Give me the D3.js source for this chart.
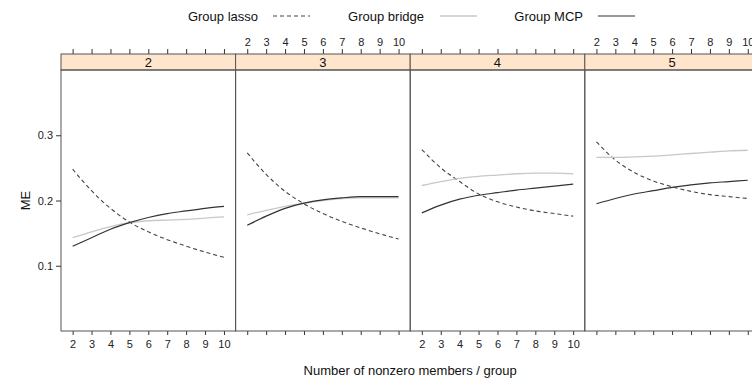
<!DOCTYPE html>
<html>
<head>
<meta charset="utf-8">
<script src="https://cdn.jsdelivr.net/npm/d3@7"></script>
<style>
  body { margin: 0; background: #fff; }
  svg { font-family: "Liberation Sans", Arial, sans-serif; }
  .frame { fill: none; stroke: #555; stroke-width: 1; }
  .strip { fill: #ffe5cc; stroke: #555; stroke-width: 1; }
  .tick line, .domain { stroke: #333; }
</style>
</head>
<body>
<div id="chart"></div>
<script>
// panels: number of groups
const panels = ['2', '3', '4', '5'];
const xs = [2, 3, 4, 5, 6, 7, 8, 9, 10];
const yTicks = [0.1, 0.2, 0.3];

const lasso = [
  [0.248, 0.215, 0.188, 0.167, 0.152, 0.140, 0.130, 0.121, 0.113],
  [0.273, 0.240, 0.214, 0.195, 0.180, 0.168, 0.158, 0.149, 0.141],
  [0.278, 0.250, 0.229, 0.210, 0.198, 0.190, 0.184, 0.180, 0.176],
  [0.290, 0.262, 0.243, 0.230, 0.221, 0.214, 0.209, 0.206, 0.203],
];
const bridge = [
  [0.143, 0.152, 0.160, 0.166, 0.169, 0.170, 0.171, 0.173, 0.175],
  [0.178, 0.185, 0.191, 0.196, 0.200, 0.203, 0.204, 0.204, 0.204],
  [0.223, 0.229, 0.234, 0.237, 0.239, 0.241, 0.242, 0.242, 0.241],
  [0.266, 0.266, 0.267, 0.268, 0.270, 0.272, 0.274, 0.276, 0.277],
];
const mcp = [
  [0.130, 0.143, 0.156, 0.166, 0.174, 0.180, 0.184, 0.188, 0.191],
  [0.162, 0.176, 0.188, 0.196, 0.201, 0.204, 0.206, 0.206, 0.206],
  [0.181, 0.193, 0.202, 0.208, 0.212, 0.216, 0.219, 0.222, 0.225],
  [0.195, 0.203, 0.210, 0.215, 0.220, 0.224, 0.227, 0.229, 0.231],
];

const series = [
  { name: 'Group lasso', values: lasso, stroke: '#444', dash: '4,3', width: 1.1 },
  { name: 'Group bridge', values: bridge, stroke: '#c8c8c8', dash: null, width: 1.3 },
  { name: 'Group MCP', values: mcp, stroke: '#333', dash: null, width: 1.2 },
];

const width = 752, height = 384;
const left = 61, panelW = 174.6;
const stripTop = 54, stripH = 16, plotTop = 70, plotBottom = 331;

const svg = d3.select('#chart').append('svg')
    .attr('width', width)
    .attr('height', height);

const x = d3.scaleLinear().domain([1.385, 10.615]).range([0, panelW]);
const y = d3.scaleLinear().domain([0, 0.4]).range([plotBottom, plotTop]);

const line = d3.line()
    .x((d, i) => x(xs[i]))
    .y((d) => y(d))
    .curve(d3.curveMonotoneX);

panels.forEach((p, k) => {
  const g = svg.append('g')
      .attr('transform', `translate(${left + k * panelW},0)`);

  // bottom axis
  const bAxis = d3.axisBottom(x).tickValues(xs).tickSize(4).tickPadding(5)
      .tickFormat(k % 2 === 0 ? d3.format('d') : '');
  const bg = g.append('g')
      .attr('transform', `translate(0,${plotBottom})`)
      .call(bAxis);
  bg.select('.domain').remove();
  bg.selectAll('text').attr('font-size', 11).attr('fill', '#222');

  // top axis
  const tAxis = d3.axisTop(x).tickValues(xs).tickSize(5).tickPadding(3)
      .tickFormat(k % 2 === 1 ? d3.format('d') : '');
  const tg = g.append('g')
      .attr('transform', `translate(0,${stripTop})`)
      .call(tAxis);
  tg.select('.domain').remove();
  tg.selectAll('text').attr('font-size', 11).attr('fill', '#222');

  // strip
  g.append('rect')
      .attr('class', 'strip')
      .attr('x', 0)
      .attr('y', stripTop)
      .attr('width', panelW)
      .attr('height', stripH);
  g.append('text')
      .attr('x', panelW / 2)
      .attr('y', stripTop + stripH / 2)
      .attr('dy', '0.36em')
      .attr('text-anchor', 'middle')
      .attr('font-size', 13)
      .attr('fill', '#111')
      .text(p);

  g.append('rect')
      .attr('class', 'frame')
      .attr('x', 0)
      .attr('y', plotTop)
      .attr('width', panelW)
      .attr('height', plotBottom - plotTop);

  series.forEach((s) => {
    g.append('path')
        .datum(s.values[k])
        .attr('fill', 'none')
        .attr('stroke', s.stroke)
        .attr('stroke-width', s.width)
        .attr('stroke-dasharray', s.dash)
        .attr('d', line);
  });
});

// left axis on first panel
const yAxis = d3.axisLeft(y).tickValues(yTicks).tickSize(5).tickPadding(3)
    .tickFormat(d3.format('.1f'));
const yg = svg.append('g')
    .attr('transform', `translate(${left},0)`)
    .call(yAxis);
yg.select('.domain').remove();
yg.selectAll('text').attr('font-size', 11).attr('fill', '#222');

// axis titles
svg.append('text')
    .attr('x', left + 2 * panelW)
    .attr('y', 375)
    .attr('text-anchor', 'middle')
    .attr('font-size', 13)
    .attr('fill', '#111')
    .text('Number of nonzero members / group');

svg.append('text')
    .attr('transform', `translate(30,${(plotTop + plotBottom) / 2}) rotate(-90)`)
    .attr('text-anchor', 'middle')
    .attr('font-size', 13)
    .attr('fill', '#111')
    .text('ME');

// legend
const legendPos = [
  { tx: 258, lx: 273 },
  { tx: 424, lx: 440 },
  { tx: 583, lx: 598 },
];
series.forEach((s, i) => {
  svg.append('text')
      .attr('x', legendPos[i].tx)
      .attr('y', 16)
      .attr('dy', '0.36em')
      .attr('text-anchor', 'end')
      .attr('font-size', 13)
      .attr('fill', '#111')
      .text(s.name);
  svg.append('line')
      .attr('x1', legendPos[i].lx)
      .attr('x2', legendPos[i].lx + 37)
      .attr('y1', 16)
      .attr('y2', 16)
      .attr('stroke', s.stroke)
      .attr('stroke-width', s.width)
      .attr('stroke-dasharray', s.dash);
});
</script>
</body>
</html>
